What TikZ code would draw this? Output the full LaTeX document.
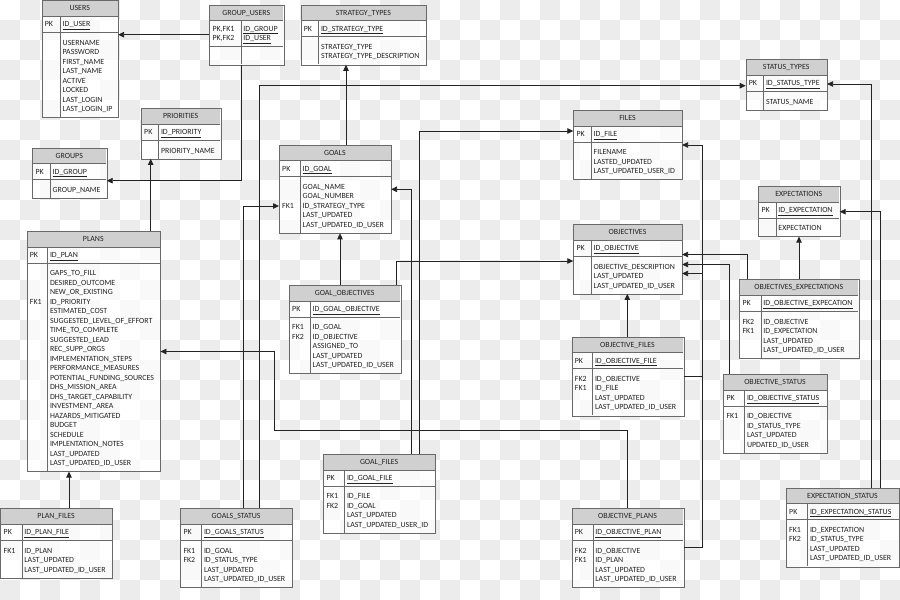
\documentclass[tikz,border=0pt]{standalone}
\usepackage{fontspec}
\setmainfont{Carlito}
\usetikzlibrary{arrows.meta}

\definecolor{chkgray}{RGB}{236,236,236}
\definecolor{hdrgray}{RGB}{208,208,208}
\definecolor{boxline}{RGB}{105,105,105}
\definecolor{inkgray}{RGB}{35,35,35}

% one table: name, x, y (top), width, key column width, title, PK rows, other rows
\newcommand{\erbox}[8]{%
  \foreach \erI [count=\n] in {#7} {\xdef\erNpk{\n}}
  \foreach \erI [count=\n] in {#8} {\xdef\erNf{\n}}
  \pgfmathsetmacro\erYb{#3+15.7}
  \pgfmathsetmacro\erYc{\erYb+9.5*(\erNpk-1)+16.2}
  \pgfmathsetmacro\erH{\erYc-#3+9.5*(\erNf-1)+18.3}
  \node[tblbg, minimum width=#4pt, minimum height=\erH pt] (#1) at (#2,#3) {};
  \fill[hdrgray] (#2,#3) rectangle ({#2+#4},\erYb);
  \draw[boxline] (#2,\erYb) -- ({#2+#4},\erYb) (#2,\erYc) -- ({#2+#4},\erYc)
    ({#2+#5},\erYb) -- ({#2+#5},{#3+\erH});
  \draw[boxline] (#1.north west) rectangle (#1.south east);
  \node[cell, anchor=center] at ({#2+#4/2},{#3+7.85}) {#6};
  \foreach \ekey/\efield [count=\n] in {#7} {
    \node[cell] at ({#2+3},{\erYb+8.2+9.5*(\n-1)}) {\ekey};
    \node[cell] at ({#2+#5+2.5},{\erYb+8.2+9.5*(\n-1)}) {\underline{\efield}};
  }
  \foreach \ekey/\efield [count=\n] in {#8} {
    \node[cell] at ({#2+3},{\erYc+10.3+9.5*(\n-1)}) {\ekey};
    \node[cell] at ({#2+#5+2.5},{\erYc+10.3+9.5*(\n-1)}) {\efield};
  }
}

\begin{document}
\begin{tikzpicture}[x=1pt, y=-1pt,
    tblbg/.style={draw=none, fill=white, fill opacity=0.7, inner sep=0, anchor=north west},
    cell/.style={anchor=west, inner sep=0, text height=5pt, text depth=0pt,
      text=inkgray, font=\fontsize{7.9}{9.5}\selectfont},
    fk/.style={draw=inkgray, line width=0.8pt, -{Triangle[length=6pt,width=5.5pt]}}]
    \useasboundingbox (0,0) rectangle (900,600);

    % checkered backdrop
    \foreach \i in {0,...,44}
      \foreach \j in {0,...,29} {
        \pgfmathtruncatemacro\chkodd{mod(\i+\j,2)}
        \ifnum\chkodd=1 \fill[chkgray] (20*\i,20*\j) rectangle ++(20,20); \fi
      }

    % tables
    \erbox{users}{41.7}{0.5}{76}{18.3}{USERS}{PK/ID\_USER}
      {/USERNAME,/PASSWORD,/FIRST\_NAME,/LAST\_NAME,/ACTIVE,/LOCKED,/LAST\_LOGIN,/LAST\_LOGIN\_IP}
    \erbox{gu}{209.3}{4.7}{74}{31.4}{GROUP\_USERS}{{PK,FK1}/ID\_GROUP,{PK,FK2}/ID\_USER}{/}
    \erbox{priorities}{141}{108.3}{79.3}{17.3}{PRIORITIES}{PK/ID\_PRIORITY}{/PRIORITY\_NAME}
    \erbox{groups}{32.3}{147.7}{74}{17.7}{GROUPS}{PK/ID\_GROUP}{/GROUP\_NAME}
    \erbox{strategy}{300.7}{4.7}{125.3}{17.6}{STRATEGY\_TYPES}{PK/ID\_STRATEGY\_TYPE}
      {/STRATEGY\_TYPE,/STRATEGY\_TYPE\_DESCRIPTION}
    \erbox{goals}{279}{144.7}{111.7}{21}{GOALS}{PK/ID\_GOAL}
      {/GOAL\_NAME,/GOAL\_NUMBER,FK1/ID\_STRATEGY\_TYPE,/LAST\_UPDATED,/LAST\_UPDATED\_ID\_USER}
    \erbox{plans}{26.7}{231}{133.3}{20.6}{PLANS}{PK/ID\_PLAN}
      {/GAPS\_TO\_FILL,/DESIRED\_OUTCOME,/NEW\_OR\_EXISTING,FK1/ID\_PRIORITY,/ESTIMATED\_COST,
       /SUGGESTED\_LEVEL\_OF\_EFFORT,/TIME\_TO\_COMPLETE,/SUGGESTED\_LEAD,/REC\_SUPP\_ORGS,
       /IMPLEMENTATION\_STEPS,/PERFORMANCE\_MEASURES,/POTENTIAL\_FUNDING\_SOURCES,
       /DHS\_MISSION\_AREA,/DHS\_TARGET\_CAPABILITY,/INVESTMENT\_AREA,/HAZARDS\_MITIGATED,
       /BUDGET,/SCHEDULE,/IMPLENTATION\_NOTES,/LAST\_UPDATED,/LAST\_UPDATED\_ID\_USER}
    \erbox{files}{573.3}{110}{108.4}{17.7}{FILES}{PK/ID\_FILE}
      {/FILENAME,/LASTED\_UPDATED,/LAST\_UPDATED\_USER\_ID}
    \erbox{stypes}{745.7}{59.3}{81}{17.6}{STATUS\_TYPES}{PK/ID\_STATUS\_TYPE}{/STATUS\_NAME}
    \erbox{expectations}{758.3}{186}{81}{17.4}{EXPECTATIONS}{PK/ID\_EXPECTATION}{/EXPECTATION}
    \erbox{objectives}{573.3}{224.3}{108.4}{17.7}{OBJECTIVES}{PK/ID\_OBJECTIVE}
      {/OBJECTIVE\_DESCRIPTION,/LAST\_UPDATED,/LAST\_UPDATED\_ID\_USER}
    \erbox{goalobj}{289}{285}{111.3}{21}{GOAL\_OBJECTIVES}{PK/ID\_GOAL\_OBJECTIVE}
      {FK1/ID\_GOAL,FK2/ID\_OBJECTIVE,/ASSIGNED\_TO,/LAST\_UPDATED,/LAST\_UPDATED\_ID\_USER}
    \erbox{objexp}{739.3}{279.3}{119}{21.4}{OBJECTIVES\_EXPECTATIONS}{PK/ID\_OBJECTIVE\_EXPECATION}
      {FK2/ID\_OBJECTIVE,FK1/ID\_EXPECTATION,/LAST\_UPDATED,/LAST\_UPDATED\_ID\_USER}
    \erbox{objfiles}{571.7}{336.7}{111.6}{20.6}{OBJECTIVE\_FILES}{PK/ID\_OBJECTIVE\_FILE}
      {FK2/ID\_OBJECTIVE,FK1/ID\_FILE,/LAST\_UPDATED,/LAST\_UPDATED\_ID\_USER}
    \erbox{objstatus}{723.3}{374}{103.4}{21}{OBJECTIVE\_STATUS}{PK/ID\_OBJECTIVE\_STATUS}
      {FK1/ID\_OBJECTIVE,/ID\_STATUS\_TYPE,/LAST\_UPDATED,/UPDATED\_ID\_USER}
    \erbox{goalfiles}{323.3}{454}{111.7}{21}{GOAL\_FILES}{PK/ID\_GOAL\_FILE}
      {FK1/ID\_FILE,FK2/ID\_GOAL,/LAST\_UPDATED,/LAST\_UPDATED\_USER\_ID}
    \erbox{planfiles}{0.5}{508.3}{111.2}{21.2}{PLAN\_FILES}{PK/ID\_PLAN\_FILE}
      {FK1/ID\_PLAN,/LAST\_UPDATED,/LAST\_UPDATED\_ID\_USER}
    \erbox{gstatus}{180.3}{508.3}{111.7}{21}{GOALS\_STATUS}{PK/ID\_GOALS\_STATUS}
      {FK1/ID\_GOAL,FK2/ID\_STATUS\_TYPE,/LAST\_UPDATED,/LAST\_UPDATED\_ID\_USER}
    \erbox{objplans}{571.7}{508.3}{111.6}{21}{OBJECTIVE\_PLANS}{PK/ID\_OBJECTIVE\_PLAN}
      {FK2/ID\_OBJECTIVE,FK1/ID\_PLAN,/LAST\_UPDATED,/LAST\_UPDATED\_ID\_USER}
    \erbox{expstatus}{786}{487.7}{113}{21.3}{EXPECTATION\_STATUS}{PK/ID\_EXPECTATION\_STATUS}
      {FK1/ID\_EXPECTATION,FK2/ID\_STATUS\_TYPE,/LAST\_UPDATED,/LAST\_UPDATED\_ID\_USER}

    % bend points
    \coordinate (c1) at (0,34.7);
    \coordinate (c2) at (241.3,180.7);
    \coordinate (c3) at (150.7,0);
    \coordinate (c4) at (69,0);
    \coordinate (c5) at (346,0);
    \coordinate (c6) at (243.3,206);
    \coordinate (c7) at (259.3,85.7);
    \coordinate (c8) at (340,0);
    \coordinate (c9) at (396.7,261);
    \coordinate (c10) at (411.5,189.3);
    \coordinate (c11) at (419,131);
    \coordinate (c12a) at (627.3,430.5);
    \coordinate (c12b) at (274.5,351.5);
    \coordinate (c13) at (627.3,0);
    \coordinate (c14a) at (702.5,376.7);
    \coordinate (c14b) at (702.5,145);
    \coordinate (c15a) at (702.5,547.7);
    \coordinate (c15b) at (702.5,273.5);
    \coordinate (c16) at (747,254.5);
    \coordinate (c17) at (729.3,264.5);
    \coordinate (c18) at (799,0);
    \coordinate (c19) at (871.7,84);
    \coordinate (c20) at (880.7,211.7);

    % foreign keys
    \draw[fk] (gu.west |- c1) -- (users.east |- c1);
    \draw[fk] (gu.south -| c2) |- (groups.east |- c2);
    \draw[fk] (plans.north -| c3) -- (priorities.south -| c3);
    \draw[fk] (planfiles.north -| c4) -- (plans.south -| c4);
    \draw[fk] (goals.north -| c5) -- (strategy.south -| c5);
    \draw[fk] (gstatus.north -| c6) |- (goals.west |- c6);
    \draw[fk] (gstatus.north -| c7) |- (stypes.west |- c7);
    \draw[fk] (goalobj.north -| c8) -- (goals.south -| c8);
    \draw[fk] (goalobj.north -| c9) |- (objectives.west |- c9);
    \draw[fk] (goalfiles.north -| c10) |- (goals.east |- c10);
    \draw[fk] (goalfiles.north -| c11) |- (files.west |- c11);
    \draw[fk] (objplans.north -| c12a) |- (c12b |- c12a) |- (plans.east |- c12b);
    \draw[fk] (objfiles.north -| c13) -- (objectives.south -| c13);
    \draw[fk] (objfiles.east |- c14a) -- (c14a) -- (c14b) -- (files.east |- c14b);
    \draw[fk] (objplans.east |- c15a) -- (c15a) -- (c15b) -- (objectives.east |- c15b);
    \draw[fk] (objexp.north -| c16) |- (objectives.east |- c16);
    \draw[fk] (objstatus.north -| c17) |- (objectives.east |- c17);
    \draw[fk] (objexp.north -| c18) -- (expectations.south -| c18);
    \draw[fk] (expstatus.north -| c19) |- (stypes.east |- c19);
    \draw[fk] (expstatus.north -| c20) |- (expectations.east |- c20);
\end{tikzpicture}
\end{document}
